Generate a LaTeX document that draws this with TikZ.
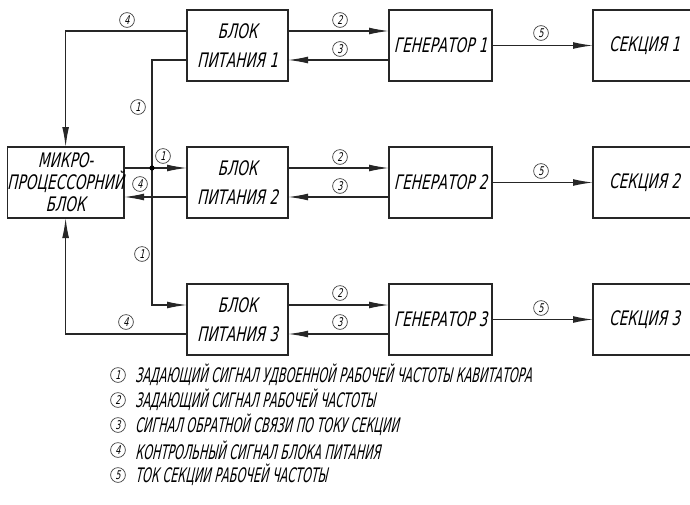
\documentclass[tikz,border=0pt]{standalone}
\usepackage{fontspec}
\usepackage{tikz}
\usetikzlibrary{positioning,arrows.meta}
\newfontfamily\gost{DejaVu Sans}[FakeStretch=0.68,FakeSlant=0.22]
\newfontfamily\gostleg{DejaVu Sans}[FakeStretch=0.56,FakeSlant=0.22]

\begin{document}
\begin{tikzpicture}[x=0.5pt,y=-0.5pt,
	blok/.style={draw=black!85,line width=0.6pt,inner sep=0pt,outer sep=0pt,
		minimum width=50.5pt,minimum height=35.5pt,align=center,
		font=\gost\fontsize{10}{14.5}\selectfont},
	gener/.style={blok,minimum width=51.5pt},
	micro/.style={blok,minimum width=57pt,font=\gost\fontsize{10}{11}\selectfont},
	num/.style={draw=black!75,circle,line width=0.35pt,minimum size=7.4pt,inner sep=0pt,
		font=\gost\fontsize{6}{6}\selectfont},
	legtext/.style={inner sep=0pt,anchor=west,font=\gostleg\fontsize{10}{10}\selectfont},
	arr/.style={-{Latex[length=10pt,width=3.4pt]}},
	wire/.style={draw=black!85,line width=0.6pt}]
	\useasboundingbox (0,0) rectangle (690,504);
	% row 1
	\node[blok] (bp1) at (237.5,45.5) {БЛОК\\ПИТАНИЯ 1};
	  \node[gener,right=50.5pt of bp1] (gen1) {ГЕНЕРАТОР 1};
	  \node[gener,right=50.5pt of gen1] (sek1) {СЕКЦИЯ 1};
	% row 2
	\node[blok,below=33pt of bp1] (bp2) {БЛОК\\ПИТАНИЯ 2};
	  \node[gener,right=50.5pt of bp2] (gen2) {ГЕНЕРАТОР 2};
	  \node[gener,right=50.5pt of gen2] (sek2) {СЕКЦИЯ 2};
	  \node[micro,left=31.5pt of bp2] (mk) {МИКРО-\\ПРОЦЕССОРНИЙ\\БЛОК};
	% row 3
	\node[blok,below=33pt of bp2] (bp3) {БЛОК\\ПИТАНИЯ 3};
	  \node[gener,right=50.5pt of bp3] (gen3) {ГЕНЕРАТОР 3};
	  \node[gener,right=50.5pt of gen3] (sek3) {СЕКЦИЯ 3};

	% signals 2, 3, 5
	\draw[wire,arr] ([yshift=7.25pt]bp1.east) -- ([yshift=7.25pt]gen1.west);
	\draw[wire,arr] ([yshift=-7.25pt]gen1.west) -- ([yshift=-7.25pt]bp1.east);
	\draw[wire,arr] (gen1) -- (sek1);
	\draw[wire,arr] ([yshift=7.25pt]bp2.east) -- ([yshift=7.25pt]gen2.west);
	\draw[wire,arr] ([yshift=-7.25pt]gen2.west) -- ([yshift=-7.25pt]bp2.east);
	\draw[wire,arr] (gen2) -- (sek2);
	\draw[wire,arr] ([yshift=7.25pt]bp3.east) -- ([yshift=7.25pt]gen3.west);
	\draw[wire,arr] ([yshift=-7.25pt]gen3.west) -- ([yshift=-7.25pt]bp3.east);
	\draw[wire,arr] (gen3) -- (sek3);

	% signal 1
	\coordinate (j) at ([yshift=7.25pt]mk.east -| 152,0);
	\draw[wire,arr] ([yshift=7.25pt]mk.east) -- ([yshift=7.25pt]bp2.west);
	\draw[wire] (j) |- ([yshift=-7.25pt]bp1.west);
	\draw[wire,arr] (j) |- ([yshift=7.25pt]bp3.west);
	\fill[black] (j) circle (1.3pt);

	% signal 4
	\draw[wire,arr] ([yshift=7.25pt]bp1.west) -| (mk.north);
	\draw[wire,arr] ([yshift=-7.25pt]bp2.west) -- ([yshift=-7.25pt]mk.east);
	\draw[wire,arr] ([yshift=-7.25pt]bp3.west) -| (mk.south);

	% labels on the wires
	\node[num] (l4a) at (127,20) {4};
	\node[num] (l1a) at (138,107) {1};
	\node[num] (l1b) at (163,156) {1};
	\node[num] (l4b) at (140,184) {4};
	\node[num] (l1c) at (142,254) {1};
	\node[num] (l4c) at (126,322) {4};
	\node[num] (l2a) at (340,20) {2};
	\node[num] (l3a) at (340,49) {3};
	\node[num] (l5a) at (541,33) {5};
	\node[num] (l2b) at (340,157) {2};
	\node[num] (l3b) at (340,186) {3};
	\node[num] (l5b) at (541,171) {5};
	\node[num] (l2c) at (340,293) {2};
	\node[num] (l3c) at (340,322) {3};
	\node[num] (l5c) at (541,308) {5};

	% legend
	\node[num] (n1) at (118,375) {1};
	\node[legtext,right=4.5pt of n1] (t1) {ЗАДАЮЩИЙ СИГНАЛ УДВОЕННОЙ РАБОЧЕЙ ЧАСТОТЫ КАВИТАТОРА};
	\node[num] (n2) at (118,400) {2};
	\node[legtext,right=4.5pt of n2] (t2) {ЗАДАЮЩИЙ СИГНАЛ РАБОЧЕЙ ЧАСТОТЫ};
	\node[num] (n3) at (118,425) {3};
	\node[legtext,right=4.5pt of n3] (t3) {СИГНАЛ ОБРАТНОЙ СВЯЗИ ПО ТОКУ СЕКЦИИ};
	\node[num] (n4) at (118,450) {4};
	\node[legtext,right=4.5pt of n4] (t4) {КОНТРОЛЬНЫЙ СИГНАЛ БЛОКА ПИТАНИЯ};
	\node[num] (n5) at (118,475) {5};
	\node[legtext,right=4.5pt of n5] (t5) {ТОК СЕКЦИИ РАБОЧЕЙ ЧАСТОТЫ};
\end{tikzpicture}
\end{document}
